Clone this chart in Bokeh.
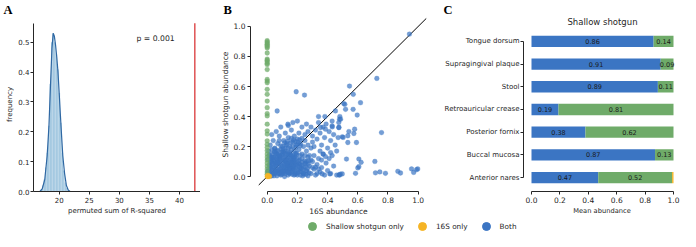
from bokeh.plotting import figure
from bokeh.models import (Range1d, FixedTicker, Label, Legend, LegendItem, Title,
                          NumeralTickFormatter)
from bokeh.layouts import row, column
from bokeh.embed import file_html
from bokeh.resources import INLINE
from bokeh.core.properties import value

FONT = "DejaVu Sans"
LETTER_FONT = "Liberation Serif"
TXT = "#262626"
BLUE = "#3b75c3"
GREEN = "#6fab69"
ORANGE = "#f5b425"

# ---------------- Panel A data ----------------
perm_bin_centers = [17.025, 17.275, 17.525, 17.775, 18.025, 18.275, 18.525, 18.775, 19.025, 19.275,
                    19.525, 19.775, 20.025, 20.275, 20.525, 20.775, 21.025, 21.275, 21.525]
perm_bin_freq = [0.005, 0.02, 0.04, 0.08, 0.13, 0.22, 0.36, 0.50, 0.53, 0.50,
                 0.46, 0.41, 0.33, 0.23, 0.13, 0.07, 0.03, 0.012, 0.004]
perm_kde_x = [16.8, 17.2, 17.6, 18.0, 18.3, 18.6, 18.8, 19.0, 19.2, 19.4,
              19.6, 19.8, 20.0, 20.3, 20.6, 20.9, 21.2, 21.5, 21.8]
perm_kde_y = [0.0, 0.01, 0.04, 0.12, 0.22, 0.38, 0.48, 0.53, 0.52, 0.49,
              0.45, 0.40, 0.33, 0.22, 0.12, 0.06, 0.02, 0.005, 0.0]
observed_r2 = 42.55
p_value_text = "p = 0.001"
a_x_ticks = [20, 25, 30, 35, 40]
a_y_ticks = [0.0, 0.1, 0.2, 0.3, 0.4, 0.5]
a_axes_top = 0.564

# ---------------- Panel B data ----------------
both_x = [0.01, 0.02, 0.03, 0.04, 0.05, 0.06, 0.07, 0.08, 0.09, 0.10,
          0.11, 0.12, 0.13, 0.14, 0.15, 0.16, 0.17, 0.18, 0.19, 0.20,
          0.015, 0.025, 0.035, 0.045, 0.055, 0.065, 0.075, 0.085, 0.095, 0.105,
          0.115, 0.125, 0.135, 0.145, 0.155, 0.165, 0.175, 0.185, 0.195, 0.21,
          0.02, 0.03, 0.04, 0.05, 0.06, 0.07, 0.08, 0.09, 0.10, 0.11,
          0.12, 0.13, 0.14, 0.15, 0.16, 0.17, 0.18, 0.19, 0.22, 0.23,
          0.012, 0.028, 0.038, 0.048, 0.058, 0.068, 0.078, 0.088, 0.098, 0.108,
          0.118, 0.128, 0.138, 0.148, 0.158, 0.168, 0.178, 0.188, 0.198, 0.24,
          0.01, 0.02, 0.03, 0.045, 0.055, 0.065, 0.075, 0.085, 0.095, 0.105,
          0.115, 0.125, 0.135, 0.145, 0.155, 0.165, 0.175, 0.185, 0.205, 0.215,
          0.01, 0.03, 0.06, 0.09, 0.12, 0.15, 0.04, 0.07, 0.11, 0.14,
          0.02, 0.04, 0.05, 0.07, 0.08, 0.10, 0.11, 0.12, 0.13, 0.14,
          0.15, 0.16, 0.17, 0.18, 0.19, 0.20, 0.21, 0.22, 0.23, 0.24,
          0.25, 0.26, 0.27, 0.28, 0.29, 0.30, 0.06, 0.09, 0.12, 0.16,
          0.18, 0.21, 0.03, 0.17, 0.20, 0.23, 0.26, 0.14, 0.25, 0.27,
          0.22, 0.23, 0.24, 0.25, 0.26, 0.27, 0.28, 0.29, 0.30, 0.31,
          0.32, 0.33, 0.34, 0.35, 0.36, 0.37, 0.38, 0.39, 0.40, 0.42,
          0.44, 0.25, 0.27, 0.29, 0.31, 0.33, 0.36, 0.41, 0.43, 0.46,
          0.22, 0.26, 0.30, 0.34, 0.48, 0.32, 0.364, 0.415, 0.475, 0.497,
          0.30, 0.32, 0.33, 0.34, 0.35, 0.36, 0.37, 0.38, 0.39, 0.40,
          0.41, 0.42, 0.43, 0.44, 0.45, 0.382, 0.386, 0.431, 0.475, 0.452,
          0.479, 0.371, 0.386, 0.35, 0.31, 0.47, 0.46, 0.29, 0.34, 0.42,
          0.507, 0.519, 0.569, 0.618, 0.596, 0.757, 0.503, 0.534, 0.574, 0.534,
          0.525, 0.607, 0.622, 0.713, 0.60, 0.585, 0.717, 0.746, 0.783, 0.865,
          0.883, 0.956, 0.989, 0.997, 0.97, 0.485, 0.514, 0.541, 0.579, 0.497,
          0.591, 0.607, 0.942, 0.545, 0.57, 0.726, 0.192, 0.247, 0.066, 0.137,
          0.005, 0.015, 0.025, 0.035, 0.045, 0.055, 0.065, 0.075, 0.085, 0.095,
          0.105, 0.115, 0.125, 0.135, 0.145, 0.155, 0.165, 0.175, 0.185, 0.195,
          0.008, 0.018, 0.027, 0.033, 0.042, 0.052, 0.061, 0.072, 0.083, 0.092,
          0.006, 0.016, 0.024, 0.036, 0.047, 0.057, 0.067, 0.079, 0.089, 0.097,
          0.102, 0.112, 0.122, 0.133, 0.142, 0.152, 0.163, 0.172, 0.182, 0.193,
          0.104, 0.117, 0.127, 0.137, 0.147, 0.157, 0.167, 0.177, 0.188, 0.197,
          0.203, 0.212, 0.224, 0.231, 0.243, 0.252, 0.263, 0.272, 0.207, 0.218,
          0.228, 0.238, 0.248, 0.258, 0.268, 0.278, 0.215, 0.235, 0.255, 0.275,
          0.05, 0.07, 0.09, 0.105, 0.125, 0.14, 0.155, 0.17, 0.185, 0.2,
          0.215, 0.23, 0.16, 0.175, 0.19, 0.205, 0.22, 0.135, 0.115, 0.08,
          0.353, 0.43, 0.474, 0.481, 0.486, 0.474]
both_y = [0.01, 0.03, 0.005, 0.06, 0.02, 0.09, 0.04, 0.12, 0.01, 0.07,
          0.03, 0.10, 0.05, 0.13, 0.02, 0.08, 0.04, 0.11, 0.06, 0.01,
          0.08, 0.12, 0.15, 0.10, 0.13, 0.005, 0.07, 0.05, 0.14, 0.11,
          0.00, 0.06, 0.09, 0.04, 0.12, 0.015, 0.10, 0.03, 0.09, 0.05,
          0.05, 0.09, 0.02, 0.16, 0.04, 0.11, 0.02, 0.08, 0.15, 0.06,
          0.02, 0.12, 0.07, 0.10, 0.03, 0.14, 0.06, 0.02, 0.08, 0.03,
          0.14, 0.02, 0.11, 0.04, 0.07, 0.14, 0.09, 0.03, 0.04, 0.09,
          0.13, 0.04, 0.01, 0.08, 0.05, 0.11, 0.01, 0.08, 0.12, 0.06,
          0.05, 0.10, 0.13, 0.005, 0.09, 0.12, 0.02, 0.10, 0.06, 0.02,
          0.08, 0.14, 0.03, 0.11, 0.06, 0.09, 0.07, 0.13, 0.04, 0.11,
          0.17, 0.18, 0.17, 0.18, 0.17, 0.16, 0.13, 0.15, 0.16, 0.15,
          0.21, 0.24, 0.19, 0.22, 0.27, 0.20, 0.24, 0.19, 0.22, 0.26,
          0.20, 0.18, 0.23, 0.17, 0.21, 0.25, 0.18, 0.22, 0.15, 0.20,
          0.24, 0.17, 0.21, 0.14, 0.19, 0.23, 0.30, 0.33, 0.29, 0.31,
          0.27, 0.29, 0.28, 0.36, 0.37, 0.33, 0.35, 0.34, 0.28, 0.30,
          0.01, 0.12, 0.02, 0.09, 0.04, 0.13, 0.07, 0.02, 0.10, 0.05,
          0.01, 0.08, 0.12, 0.03, 0.06, 0.15, 0.01, 0.09, 0.04, 0.02,
          0.07, 0.14, 0.005, 0.11, 0.14, 0.02, 0.11, 0.12, 0.14, 0.01,
          0.14, 0.10, 0.06, 0.05, 0.01, 0.063, 0.018, 0.018, 0.011, 0.018,
          0.27, 0.31, 0.25, 0.36, 0.29, 0.21, 0.33, 0.26, 0.35, 0.19,
          0.30, 0.24, 0.37, 0.28, 0.21, 0.40, 0.316, 0.331, 0.327, 0.437,
          0.382, 0.15, 0.133, 0.17, 0.20, 0.26, 0.17, 0.33, 0.40, 0.16,
          0.486, 0.448, 0.448, 0.492, 0.41, 0.293, 0.261, 0.272, 0.287, 0.227,
          0.117, 0.117, 0.095, 0.101, 0.058, 0.022, 0.025, 0.031, 0.022, 0.035,
          0.024, 0.051, 0.046, 0.051, 0.028, 0.017, 0.481, 0.30, 0.316, 0.265,
          0.227, 0.066, 0.949, 0.603, 0.548, 0.654, 0.565, 0.543, 0.437, 0.349,
          0.035, 0.075, 0.005, 0.115, 0.065, 0.025, 0.095, 0.045, 0.135, 0.015,
          0.165, 0.035, 0.105, 0.075, 0.025, 0.145, 0.055, 0.125, 0.015, 0.155,
          0.035, 0.065, 0.095, 0.045, 0.125, 0.075, 0.155, 0.105, 0.135, 0.025,
          0.115, 0.145, 0.055, 0.085, 0.165, 0.035, 0.095, 0.145, 0.115, 0.165,
          0.125, 0.045, 0.155, 0.075, 0.025, 0.145, 0.065, 0.125, 0.095, 0.145,
          0.035, 0.105, 0.085, 0.165, 0.055, 0.095, 0.135, 0.045, 0.155, 0.075,
          0.025, 0.085, 0.055, 0.095, 0.015, 0.065, 0.035, 0.085, 0.105, 0.035,
          0.075, 0.045, 0.105, 0.015, 0.055, 0.025, 0.065, 0.005, 0.085, 0.105,
          0.185, 0.175, 0.205, 0.185, 0.21, 0.19, 0.225, 0.2, 0.235, 0.215,
          0.245, 0.255, 0.255, 0.245, 0.195, 0.23, 0.205, 0.235, 0.225, 0.24,
          0.327, 0.338, 0.36, 0.40, 0.382, 0.327]
shotgun_only_y = [0.905, 0.897, 0.889, 0.881, 0.873, 0.865, 0.857, 0.823, 0.783, 0.775,
                  0.765, 0.755, 0.746, 0.713, 0.647, 0.636, 0.625, 0.581, 0.548, 0.503,
                  0.459, 0.419, 0.404, 0.349, 0.305, 0.283, 0.238, 0.215, 0.194, 0.172,
                  0.15, 0.13, 0.11, 0.09, 0.07, 0.05, 0.03, 0.015]
shotgun_only_x = [0.0, 0.0, 0.0, 0.0, 0.0, 0.0, 0.0, 0.0, 0.0, 0.0,
                  0.0, 0.0, 0.0, 0.0, 0.0, 0.0, 0.0, 0.0, 0.0, 0.0,
                  0.0, 0.0, 0.0, 0.0, 0.0, 0.0, 0.0, 0.0, 0.0, 0.0,
                  0.0, 0.0, 0.0, 0.0, 0.0, 0.0, 0.0, 0.0]
s16_only_x = [0.0, 0.004, 0.008, 0.012, 0.016, 0.003]
s16_only_y = [0.0, 0.002, 0.0, 0.004, 0.001, 0.008]
identity_line = [-0.056, 1.055]
b_ticks = [0.0, 0.2, 0.4, 0.6, 0.8, 1.0]

# ---------------- Panel C data ----------------
body_sites = ["Tongue dorsum", "Supragingival plaque", "Stool", "Retroauricular crease",
              "Posterior fornix", "Buccal mucosa", "Anterior nares"]
mean_both = [0.86, 0.91, 0.89, 0.19, 0.38, 0.87, 0.47]
mean_shotgun_only = [0.14, 0.09, 0.11, 0.81, 0.62, 0.13, 0.52]
mean_16s_only = [0.0, 0.0, 0.0, 0.0, 0.0, 0.0, 0.01]
c_x_ticks = [0.0, 0.2, 0.4, 0.6, 0.8, 1.0]
c_title = "Shallow shotgun"

legend_labels = ["Shallow shotgun only", "16S only", "Both"]


def style_axis(ax, size="7.5px", label_size="7.5px"):
    ax.axis_line_color = TXT
    ax.axis_line_width = 1
    ax.major_tick_line_color = TXT
    ax.minor_tick_line_color = None
    ax.major_tick_in = 0
    ax.major_tick_out = 3
    ax.major_label_text_font_size = size
    ax.major_label_text_color = TXT
    ax.major_label_text_font = FONT
    ax.axis_label_text_font = FONT
    ax.axis_label_text_font_style = "normal"
    ax.axis_label_text_font_size = label_size
    ax.axis_label_text_color = TXT
    ax.major_label_standoff = 2
    ax.axis_label_standoff = 1


def base_fig(w, h, xr, yr, bl, br, bt, bb):
    p = figure(width=w, height=h, x_range=xr, y_range=yr, output_backend="svg",
               toolbar_location=None, min_border_left=bl, min_border_right=br,
               min_border_top=bt, min_border_bottom=bb)
    p.outline_line_color = None
    p.xgrid.grid_line_color = None
    p.ygrid.grid_line_color = None
    p.background_fill_color = None
    p.border_fill_color = None
    return p


def panel_letter(p, text, offset):
    p.add_layout(Title(text=text, align="left", offset=offset, standoff=1,
                       text_font=LETTER_FONT, text_font_style="bold",
                       text_font_size="12.5px", text_color="black"), "above")


ROW_H = 220
TOP = 16
BOTTOM = 29

# ---------------- Panel A ----------------
pA = base_fig(200, ROW_H, Range1d(15.73, 43.49), Range1d(0, 0.583), 33, 0, TOP, BOTTOM)
pA.vbar(x=perm_bin_centers, width=0.25, top=perm_bin_freq, fill_color="#a5c9e1",
        line_color=None)
pA.line(perm_kde_x, perm_kde_y, line_color="#2f68a3", line_width=1.2)
pA.segment(x0=[observed_r2], y0=[0], x1=[observed_r2], y1=[a_axes_top],
           line_color="#d62728", line_width=1.2)
pA.add_layout(Label(x=32.85, y=0.514, text=p_value_text, text_font=FONT,
                    text_font_size="7.7px", text_color=TXT, text_baseline="middle"))
pA.xaxis.ticker = FixedTicker(ticks=a_x_ticks)
pA.yaxis.ticker = FixedTicker(ticks=a_y_ticks)
pA.yaxis.formatter = NumeralTickFormatter(format="0.0")
pA.yaxis.bounds = (0, a_axes_top)
pA.xaxis.axis_label = "permuted sum of R-squared"
pA.yaxis.axis_label = "frequency"
style_axis(pA.xaxis[0], "7px", "7px")
style_axis(pA.yaxis[0], "7px", "7px")
pA.yaxis.major_label_standoff = 1
panel_letter(pA, "A", -30)

# ---------------- Panel B ----------------
pB = base_fig(230, ROW_H, Range1d(-0.1106, 1.055), Range1d(-0.0993, 1.0596), 50, 4, TOP, BOTTOM)
pB.line(identity_line, identity_line, line_color="black", line_width=1)
pB.scatter(both_x, both_y, size=4.8, fill_color=BLUE, fill_alpha=0.7,
           line_color=BLUE, line_alpha=0.8, line_width=0.3)
pB.scatter(shotgun_only_x, shotgun_only_y, size=4.8, fill_color=GREEN, fill_alpha=0.75,
           line_color=GREEN, line_alpha=0.8, line_width=0.3)
pB.scatter(s16_only_x, s16_only_y, size=4.8, fill_color=ORANGE, fill_alpha=0.8,
           line_color=ORANGE, line_alpha=0.8, line_width=0.3)
for ax in (pB.xaxis[0], pB.yaxis[0]):
    ax.ticker = FixedTicker(ticks=b_ticks)
    ax.formatter = NumeralTickFormatter(format="0.0")
    ax.bounds = (0, 1)
    style_axis(ax, "7.5px", "7.5px")
pB.xaxis.axis_label = "16S abundance"
pB.yaxis.axis_label = "Shallow shotgun abundance"
panel_letter(pB, "B", -27)

# ---------------- Panel C ----------------
n_sites = len(body_sites)
ypos = [n_sites - 1 - i for i in range(n_sites)]
both_end = [b for b in mean_both]
shot_end = [b + s for b, s in zip(mean_both, mean_shotgun_only)]
s16_end = [e + o for e, o in zip(shot_end, mean_16s_only)]
both_lab_x = [b / 2 for b in mean_both]
shot_lab_x = [b + s / 2 for b, s in zip(mean_both, mean_shotgun_only)]

pC = base_fig(250, ROW_H, Range1d(-0.05634, 1.0493), Range1d(-0.613, 7.052), 93, 0, TOP, BOTTOM)
pC.hbar(y=ypos, left=0, right=both_end, height=0.5, fill_color=BLUE, line_color=None)
pC.hbar(y=ypos, left=both_end, right=shot_end, height=0.5, fill_color=GREEN, line_color=None)
pC.hbar(y=ypos, left=shot_end, right=s16_end, height=0.5, fill_color=ORANGE, line_color=None)
pC.text(x=both_lab_x, y=ypos, text=["%.2f" % v for v in mean_both],
        text_font=value(FONT), text_font_size="6.5px", text_color="#1a1a1a",
        text_align="center", text_baseline="middle")
pC.text(x=shot_lab_x, y=ypos, text=["%.2f" % v for v in mean_shotgun_only],
        text_font=value(FONT), text_font_size="6.5px", text_color="#1a1a1a",
        text_align="center", text_baseline="middle")
pC.xaxis.ticker = FixedTicker(ticks=c_x_ticks)
pC.xaxis.formatter = NumeralTickFormatter(format="0.0")
pC.xaxis.bounds = (0, 1)
pC.yaxis.ticker = FixedTicker(ticks=ypos)
pC.yaxis.major_label_overrides = {yy: s for yy, s in zip(ypos, body_sites)}
pC.yaxis.bounds = (0, n_sites - 1)
pC.xaxis.axis_label = "Mean abundance"
style_axis(pC.xaxis[0], "7.5px", "6.7px")
style_axis(pC.yaxis[0], "7px", "7px")
pC.yaxis.major_label_standoff = 1
pC.add_layout(Label(x=0.5, y=6.845, text=c_title, text_font=FONT, text_font_size="8.5px",
                    text_color=TXT, text_align="center", text_baseline="middle"))
panel_letter(pC, "C", -80)

# ---------------- Legend strip ----------------
pL = figure(width=680, height=11, x_range=Range1d(0, 1), y_range=Range1d(0, 1),
            output_backend="svg", toolbar_location=None, min_border=0,
            x_axis_location=None, y_axis_location=None)
pL.outline_line_color = None
pL.xgrid.grid_line_color = None
pL.ygrid.grid_line_color = None
pL.background_fill_color = None
pL.border_fill_color = None
leg_colors = [GREEN, ORANGE, BLUE]
items = []
for lab, col in zip(legend_labels, leg_colors):
    r = pL.scatter(x=[-5], y=[-5], size=8, fill_color=col, line_color=col)
    items.append(LegendItem(label=lab, renderers=[r]))
leg = Legend(items=items, orientation="horizontal", location=(302, -5),
             glyph_width=20, glyph_height=20, label_height=20, label_standoff=4,
             spacing=8, padding=0, margin=0, border_line_color=None,
             background_fill_alpha=0, label_text_font=FONT,
             label_text_font_size="7.3px", label_text_color=TXT)
pL.add_layout(leg, "center")

layout = column(row(pA, pB, pC), pL)
open("out.html", "w").write(file_html(layout, INLINE))
